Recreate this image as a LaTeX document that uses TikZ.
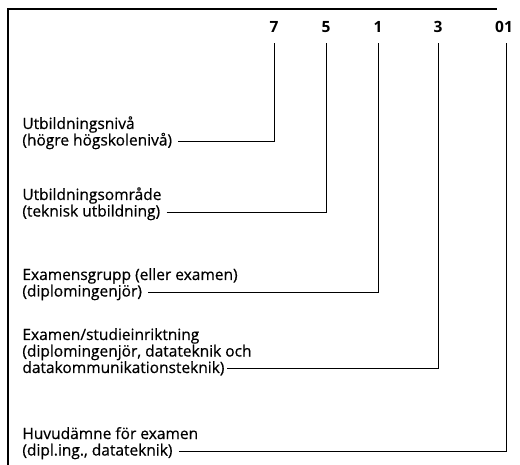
\documentclass[tikz,border=0pt]{standalone}
\usepackage{fontspec}
\setmainfont{Open Sans}
\newfontfamily\lblfont{Open Sans}[FakeBold=0.6]
\usetikzlibrary{positioning}

\begin{document}
\begin{tikzpicture}[x=1pt, y=-1pt, node distance=16.5pt, thick,
  every node/.style={inner sep=0pt, font=\lblfont\fontsize{15.5}{17}\selectfont},
  lbl/.style={anchor=base west},
  code/.style={font=\fontsize{15.5}{17}\selectfont\bfseries, anchor=base, outer sep=10pt},
  link/.style={line width=1pt}]

\useasboundingbox (0,0) rectangle (520,465);

% Frame
\draw[line width=1.8pt] (8,465) -- (8,9) -- (497,9);

% Nodes
\node[code] (d7) at (274,33) {7};
\node[code] (d5) at (326,33) {5};
\node[code] (d1) at (378,33) {1};
\node[code] (d3) at (438,33) {3};
\node[code] (d01) at (504,33) {01};

\node[lbl] (nivA) at (22,129) {Utbildningsnivå};
\node[lbl, below=of nivA.base west, anchor=base west] (nivB) {(högre högskolenivå)};

\node[lbl] (omrA) at (22,200) {Utbildningsområde};
\node[lbl, below=of omrA.base west, anchor=base west] (omrB) {(teknisk utbildning)};

\node[lbl] (grpA) at (22,280) {Examensgrupp (eller examen)};
\node[lbl, below=of grpA.base west, anchor=base west] (grpB) {(diplomingenjör)};

\node[lbl] (inrA) at (22,340) {Examen/studieinriktning};
\node[lbl, below=of inrA.base west, anchor=base west] (inrB) {(diplomingenjör, datateknik och};
\node[lbl, below=of inrB.base west, anchor=base west] (inrC) {datakommunikationsteknik)};

\node[lbl] (amnA) at (22,439) {Huvudämne för examen};
\node[lbl, below=of amnA.base west, anchor=base west] (amnB) {(dipl.ing., datateknik)};

% Edges
\draw[link] ([xshift=6pt, yshift=4pt]nivB.base east) -| (d7.south);
\draw[link] ([xshift=6pt, yshift=4pt]omrB.base east) -| (d5.south);
\draw[link] ([xshift=6pt, yshift=4pt]grpB.base east) -| (d1.south);
\draw[link] ([xshift=2pt, yshift=4pt]inrC.base east) -| (d3.south);
\draw[link] ([xshift=6pt, yshift=4pt]amnB.base east) -| ([xshift=2pt]d01.south);

\end{tikzpicture}
\end{document}
